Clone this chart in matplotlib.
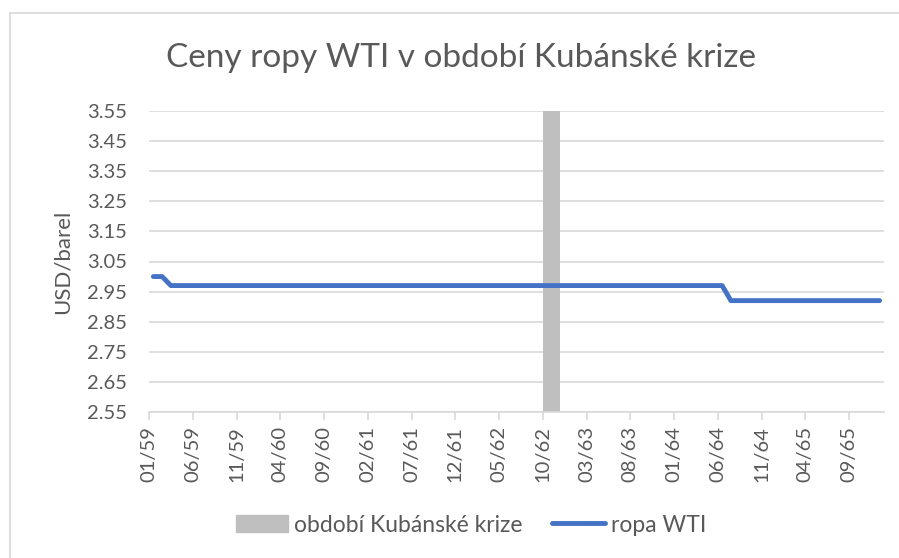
import matplotlib
matplotlib.use("Agg")
import matplotlib.pyplot as plt
from matplotlib.lines import Line2D

plt.rcParams['font.family'] = ['Lato', 'DejaVu Sans']

# monthly data 01/59 .. 12/65
n_months = 84
price = [3.00, 3.00] + [2.97] * 64 + [2.92] * 18
crisis_idx = [45, 46]          # 10/62, 11/62
crisis_val = [3.55, 3.55]
tick_idx = list(range(0, 81, 5))
tick_labels = ['01/59', '06/59', '11/59', '04/60', '09/60', '02/61', '07/61',
               '12/61', '05/62', '10/62', '03/63', '08/63', '01/64', '06/64',
               '11/64', '04/65', '09/65']
yticks = [2.55, 2.65, 2.75, 2.85, 2.95, 3.05, 3.15, 3.25, 3.35, 3.45, 3.55]

txt = '#595959'
grid = '#d9d9d9'

fig = plt.figure(figsize=(8.99, 5.58), dpi=100)
ax = fig.add_axes([149/899, 1-412/558, 735/899, 301/558])

ax.bar(crisis_idx, [v - 2.55 for v in crisis_val], bottom=2.55, width=1,
       align='edge', color='#bfbfbf', zorder=2)
ax.plot([i + 0.5 for i in range(n_months)], price, color='#4472c4', lw=3.5,
        solid_capstyle='round', solid_joinstyle='round', zorder=3)

ax.set_xlim(0, n_months)
ax.set_ylim(2.55, 3.55)
ax.set_yticks(yticks)
ax.set_yticklabels(['%.2f' % v for v in yticks])
ax.set_xticks(tick_idx)
ax.set_xticklabels(tick_labels, rotation=90)
ax.yaxis.grid(True, color=grid, lw=1.2, zorder=0)
ax.set_axisbelow(True)
for s in ['top', 'right', 'left']:
    ax.spines[s].set_visible(False)
ax.spines['bottom'].set_color(grid)
ax.spines['bottom'].set_linewidth(1.2)
ax.tick_params(axis='y', length=0, pad=16, labelsize=14.5, labelcolor=txt)
ax.tick_params(axis='x', length=6, width=1.2, color=grid, pad=4,
               labelsize=14.5, labelcolor=txt)
ax.set_ylabel('USD/barel', fontsize=16, color=txt, labelpad=10)

fig.text(461/899, 1-58/558, 'Ceny ropy WTI v období Kubánské krize',
         ha='center', va='center', fontsize=24, color=txt)

handles = [plt.Rectangle((0, 0), 1, 1, color='#bfbfbf'),
           Line2D([0], [0], color='#4472c4', lw=3.5, solid_capstyle='round')]
fig.legend(handles, ['období Kubánské krize', 'ropa WTI'], loc='center',
           bbox_to_anchor=(471/899, 1-525/558), ncol=2, frameon=False,
           fontsize=16.5, labelcolor=txt, handlelength=2.3, handletextpad=0.25,
           columnspacing=1.3)

# outer chart border (only left and top visible in the crop)
fig.add_artist(Line2D([10/899, 10/899], [0, 1-13/558], transform=fig.transFigure,
                      color='#d9d9d9', lw=1.2))
fig.add_artist(Line2D([10/899, 1], [1-13/558, 1-13/558], transform=fig.transFigure,
                      color='#d9d9d9', lw=1.2))

fig.savefig('out.png', dpi=100, facecolor='white')
